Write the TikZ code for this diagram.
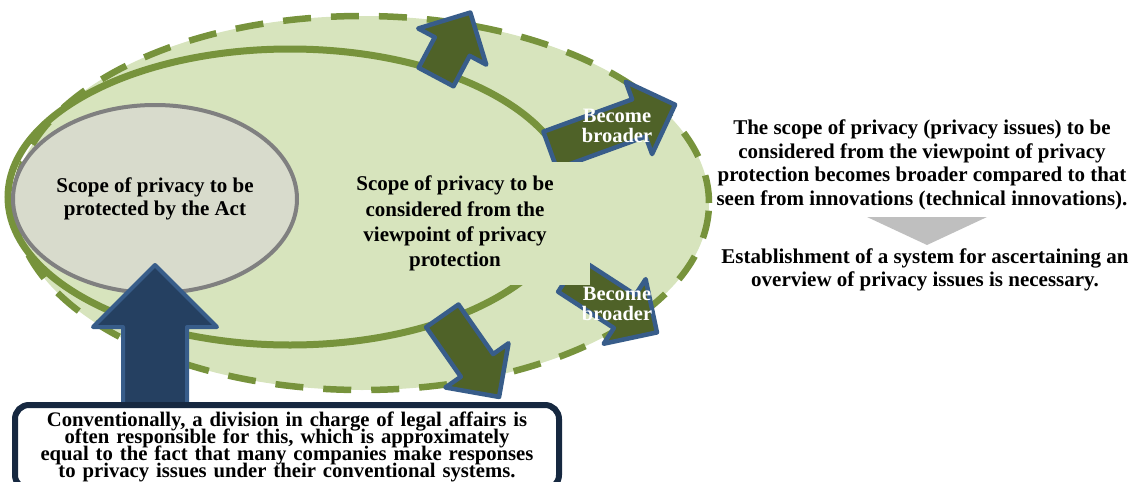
\documentclass[tikz,border=0pt]{standalone}
\usepackage{fontspec}
\setmainfont{Liberation Serif}
\usepackage{xcolor}
\usepackage{tikz}
\usetikzlibrary{shapes.geometric,shapes.arrows}

\definecolor{lightolive}{HTML}{D7E4BD}
\definecolor{olive}{HTML}{77933C}
\definecolor{actgrey}{HTML}{D8DBCC}
\definecolor{darkolive}{HTML}{4F6228}
\definecolor{steelblue}{HTML}{385D8A}
\definecolor{navy}{HTML}{254061}
\definecolor{deepnavy}{HTML}{162840}
\definecolor{pointgrey}{HTML}{BFBFBF}

\begin{document}
\begin{tikzpicture}[x=1pt, y=-1pt,
        S node/.style={ellipse, inner sep=0pt},
        A node/.style={single arrow, draw=steelblue, fill=darkolive,
            line width=4.5pt, line join=round, inner sep=0pt, inner ysep=17.5pt,
            single arrow head extend=18.75pt, single arrow tip angle=90,
            minimum height=#1, anchor=tail},
        T node/.style={align=center, font=\bfseries\fontsize{21}{23.5}\selectfont},
        W node/.style={align=center, text=white, font=\bfseries\fontsize{20.5}{20}\selectfont}]

    \useasboundingbox (0,0) rectangle (1136,482);

    % scopes, from the widest to the Act
    \node[S node, draw=olive, fill=lightolive, line width=6.5pt,
        dash pattern=on 28pt off 20pt,
        minimum width=694pt, minimum height=374pt] (outer) at (362,203) {};
    \node[S node, draw=olive, line width=7pt,
        minimum width=564pt, minimum height=296pt] (middle) at (290,197) {};
    \node[S node, draw=gray, fill=actgrey, line width=4pt,
        minimum width=284pt, minimum height=188pt, T node] (act) at (155,199)
        {Scope of privacy to be\\protected by the Act};

    % arrows growing out of the middle scope
    \node[A node=73pt, rotate=62] (up) at (435,79) {};
    \node[A node=133pt, rotate=20] (broad top) at (548,151) {};
    \node[A node=105pt, rotate=-33] (broad low) at (567,274) {};
    \node[A node=99pt, rotate=-55] (down) at (441,314) {};

    % text box of the middle scope, filled so it hides the arrow tails
    \node[T node, fill=lightolive, minimum width=270pt, minimum height=123pt,
        font={\bfseries\fontsize{21}{25.3}\selectfont}] (viewpoint) at (455,223.5)
        {Scope of privacy to be\\considered from the\\viewpoint of privacy\\protection};
    \node[W node] (broad top text) at (617,126) {Become\\broader};
    \node[W node] (broad low text) at (617,304) {Become\\broader};

    % legal affairs box pushing up into the Act
    \node[A node=148pt, rotate=90, fill=navy, line width=4pt,
        inner ysep=30pt, single arrow head extend=30pt] (push) at (155,415) {};
    \node[draw=deepnavy, fill=white, line width=6pt, rounded corners=14pt,
        minimum width=544pt, minimum height=84pt] (legal) at (287,447) {};
    \node[T node, text width=536pt, inner sep=0pt,
        font={\bfseries\fontsize{20.7}{17}\selectfont\setlength{\lineskiplimit}{-30pt}}]
        (legal text) at (287,447)
        {Conventionally, a division in charge of legal affairs is\\
         often responsible for this, which is approximately\\
         equal to the fact that many companies make responses\\
         to privacy issues under their conventional systems.};

    % conclusion on the right
    \node[T node] (broader) at (922,165)
        {The scope of privacy (privacy issues) to be\\
         considered from the viewpoint of privacy\\
         protection becomes broader compared to that\\
         seen from innovations (technical innovations).};
    \fill[pointgrey] (867,217) -- (987,217) -- (927,245) -- cycle;
    \node[T node] (system) at (925,270)
        {Establishment of a system for ascertaining an\\
         overview of privacy issues is necessary.};
\end{tikzpicture}
\end{document}
